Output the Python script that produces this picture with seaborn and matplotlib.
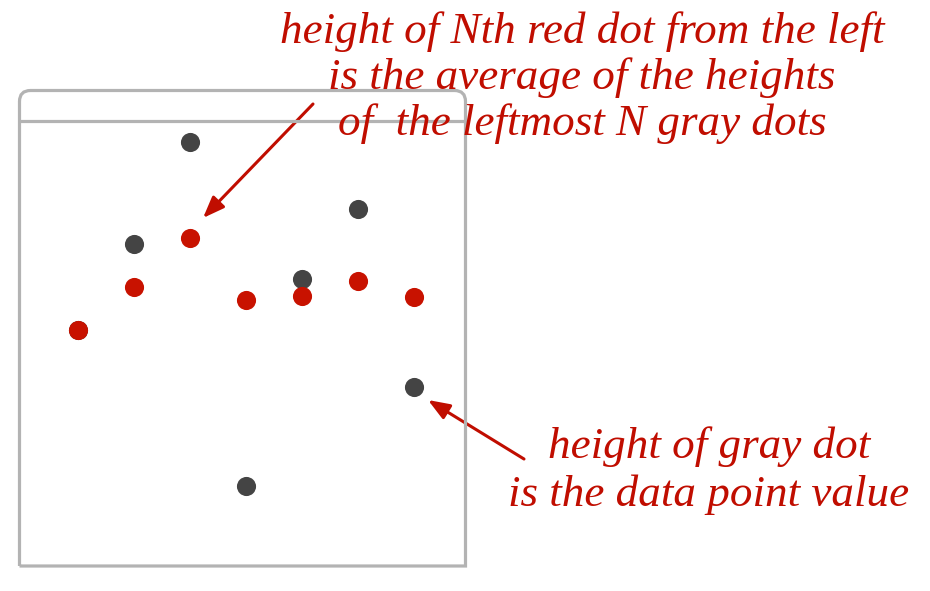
# running average of a few data points: gray = data, red = cumulative mean

import numpy as np
import pandas as pd
import matplotlib
matplotlib.use('Agg')
import matplotlib.pyplot as plt
import matplotlib.transforms as mtransforms
from matplotlib.path import Path
from matplotlib.patches import PathPatch
import seaborn as sns

# data (arbitrary height units)
positions = [1, 2, 3, 4, 5, 6, 7]
gray_values = [236, 322, 424, 80, 287, 357, 179]
red_values = [236, 279, 328, 266, 270, 285, 269]

note_top = ['height of Nth red dot from the left',
            'is the average of the heights',
            'of  the leftmost N gray dots']
note_bottom = ['height of gray dot',
               'is the data point value']

gray = '#444444'
red = '#c81200'
text_red = '#c00d00'
box_gray = '#b3b3b3'

sns.set_style('white')
plt.rcParams['font.family'] = ['Liberation Serif', 'DejaVu Serif']

W, H = 930, 591
fig = plt.figure(figsize=(W / 100, H / 100), dpi=100)

# axes placed exactly inside the gray box (pixel edges)
left, right, top, bottom = 19.5, 465.5, 90.5, 566
ax = fig.add_axes([left / W, 1 - bottom / H, (right - left) / W, (bottom - top) / H])
ax.set_xlim(1 - (78 - left) / 56, 7 + (right - 414) / 56)
ax.set_ylim(0, bottom - top)
ax.axis('off')

df = pd.DataFrame({'pos': positions, 'gray': gray_values, 'red': red_values})
sns.scatterplot(data=df, x='pos', y='gray', color=gray, s=190, linewidth=0, ax=ax, zorder=3)
sns.scatterplot(data=df, x='pos', y='red', color=red, s=190, linewidth=0, ax=ax, zorder=4)

# box with rounded top corners and a header line
r = 11
def fx(px):
    return px / W
def fy(py):
    return 1 - py / H
verts = [(fx(left), fy(bottom)), (fx(left), fy(top + r)),
         (fx(left), fy(top)), (fx(left + r), fy(top)),
         (fx(right - r), fy(top)), (fx(right), fy(top)), (fx(right), fy(top + r)),
         (fx(right), fy(bottom)), (fx(left), fy(bottom))]
codes = [Path.MOVETO, Path.LINETO, Path.CURVE3, Path.CURVE3, Path.LINETO,
         Path.CURVE3, Path.CURVE3, Path.LINETO, Path.LINETO]
fig.patches.append(PathPatch(Path(verts, codes), transform=fig.transFigure,
                             facecolor='none', edgecolor=box_gray, lw=2.3, zorder=1))
fig.add_artist(plt.Line2D([fx(left), fx(right)], [fy(120.5), fy(120.5)],
                          transform=fig.transFigure, color=box_gray, lw=2.3, zorder=1))

# notes
for i, line in enumerate(note_top):
    fig.text(fx(582), fy(32 + i * 46), line, ha='center', va='center',
             fontsize=32.5, style='italic', color=text_red, zorder=6)
for i, line in enumerate(note_bottom):
    fig.text(fx(709), fy(447 + i * 48), line, ha='center', va='center',
             fontsize=32.5, style='italic', color=text_red, zorder=6)

# arrows pointing at a red dot and a gray dot
arrow = dict(arrowstyle='-|>,head_length=1.3,head_width=0.5', mutation_scale=10,
             lw=2.2, color=text_red, shrinkA=0, shrinkB=0)
tip1 = mtransforms.offset_copy(ax.transData, fig=fig, x=13, y=20, units='dots')
ax.annotate('', xy=(positions[2], red_values[2]), xycoords=tip1,
            xytext=(313, H - 104), textcoords='figure pixels', arrowprops=arrow)
tip2 = mtransforms.offset_copy(ax.transData, fig=fig, x=14, y=-13, units='dots')
ax.annotate('', xy=(positions[6], gray_values[6]), xycoords=tip2,
            xytext=(524, H - 459), textcoords='figure pixels', arrowprops=arrow)

fig.savefig('out.png', dpi=100)
